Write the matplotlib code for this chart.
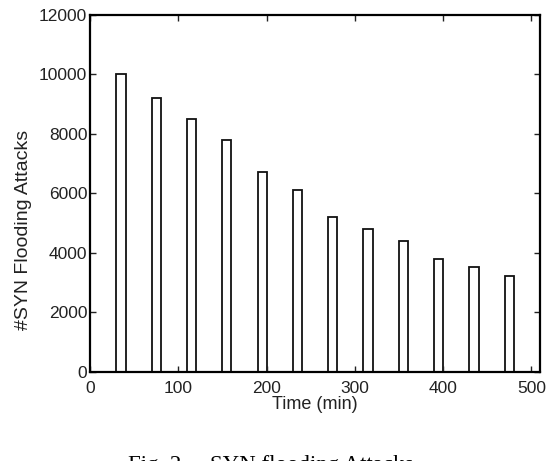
import matplotlib
matplotlib.use('agg')
import matplotlib.pyplot as plt

times = [35, 75, 115, 155, 195, 235, 275, 315, 355, 395, 435, 475]
attacks = [10000, 9200, 8500, 7800, 6700, 6100, 5200, 4800, 4400, 3800, 3500, 3200]
xticks = [0, 100, 200, 300, 400, 500]
yticks = [0, 2000, 4000, 6000, 8000, 10000, 12000]

plt.rcParams['font.family'] = ['Liberation Sans', 'DejaVu Sans']

fig = plt.figure(figsize=(5.49, 4.61), dpi=100)
ax = fig.add_axes([0.164, 0.194, 0.820, 0.774])

ax.bar(times, attacks, width=10.5, facecolor='white', edgecolor='#111111', linewidth=1.3)

ax.set_xlim(0, 510)
ax.set_ylim(0, 12000)
ax.set_xticks(xticks)
ax.set_yticks(yticks)
ax.tick_params(direction='in', top=True, right=True, labelsize=12.5, length=4, width=1,
               colors='#222222', pad=2)
ax.tick_params(axis='x', pad=7)
for sp in ax.spines.values():
    sp.set_linewidth(1.6)
ax.set_xlabel('Time (min)', fontsize=13, labelpad=0, color='#222222')

# ylabel sits lower than axes centre in the original
fig.text(0.043, 1 - 230 / 461, '#SYN Flooding Attacks', rotation=90, fontsize=14,
         ha='center', va='center', color='#222222')

fig.text(0.494, 0.013, 'Fig. 2.    SYN flooding Attacks', family='Liberation Serif',
         fontsize=16.5, ha='center', va='top')

fig.savefig('out.png', dpi=100)
